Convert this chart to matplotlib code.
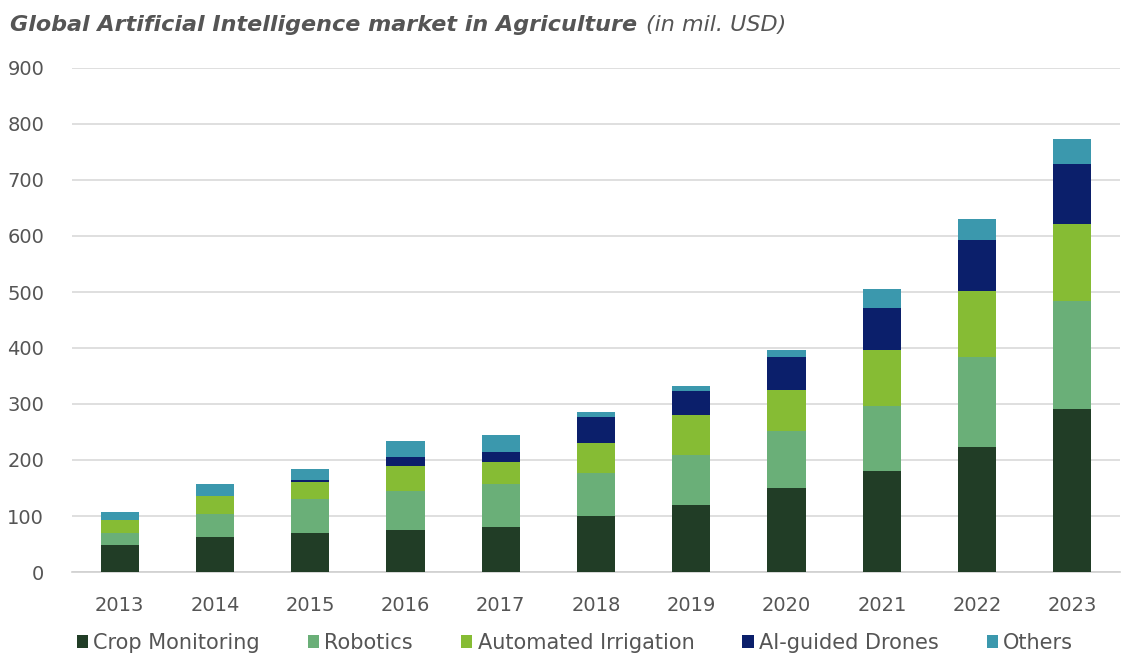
import matplotlib
matplotlib.use("Agg")
import matplotlib.pyplot as plt
import numpy as np

years = ["2013", "2014", "2015", "2016", "2017", "2018", "2019", "2020", "2021", "2022", "2023"]
crop_monitoring = [48, 62, 70, 75, 80, 100, 120, 150, 180, 223, 291]
robotics = [22, 42, 60, 70, 77, 77, 89, 102, 116, 161, 193]
automated_irrigation = [23, 32, 31, 44, 39, 53, 71, 73, 100, 118, 137]
ai_drones = [0, 0, 3, 16, 18, 47, 43, 59, 75, 91, 108]
others = [14, 21, 20, 29, 31, 9, 9, 12, 34, 37, 44]

series = [
    ("Crop Monitoring", crop_monitoring, "#213d26"),
    ("Robotics", robotics, "#6aaf78"),
    ("Automated Irrigation", automated_irrigation, "#86bc34"),
    ("AI-guided Drones", ai_drones, "#0b1f6b"),
    ("Others", others, "#3b98ad"),
]

W, H = 1123, 657
fig = plt.figure(figsize=(W / 100, H / 100), dpi=100)
ax = fig.add_axes([72 / W, 1 - 572 / H, (1120 - 72) / W, (572 - 68) / H])

x = np.arange(len(years))
bottom = np.zeros(len(years))
handles = []
for name, vals, col in series:
    v = np.array(vals, dtype=float)
    b = ax.bar(x, v, 0.4, bottom=bottom, color=col, label=name, zorder=3, linewidth=0)
    handles.append(b)
    bottom += v

ax.set_xlim(-0.5, len(years) - 0.5)
ax.set_ylim(0, 900)
ax.set_yticks(range(0, 901, 100))
ax.set_xticks(x)
ax.set_xticklabels(years)
ax.yaxis.grid(True, color="#d9d9d9", linewidth=1.2, zorder=0)
ax.set_axisbelow(True)
for s in ["top", "right", "left"]:
    ax.spines[s].set_visible(False)
ax.spines["bottom"].set_color("#d0d0d0")
ax.spines["bottom"].set_linewidth(1.2)
ax.tick_params(axis="both", length=0, colors="#555555", labelsize=14)
ax.tick_params(axis="y", pad=20)
ax.tick_params(axis="x", pad=17)

leg = fig.legend(handles=handles, loc="center", bbox_to_anchor=(575 / W, 1 - 643 / H),
                 ncol=5, frameon=False, fontsize=15, handlelength=0.55, handleheight=0.55,
                 handletextpad=0.25, columnspacing=2.3)
for t in leg.get_texts():
    t.set_color("#555555")

t1 = fig.text(10 / W, 1 - 25 / H, "Global Artificial Intelligence market in Agriculture",
              fontsize=16, fontweight="bold", style="italic", color="#555555", va="center", ha="left")
fig.canvas.draw()
bb = t1.get_window_extent()
fig.text((bb.x1 + 9) / W, 1 - 25 / H, "(in mil. USD)", fontsize=16, style="italic",
         color="#555555", va="center", ha="left")

fig.savefig("out.png", dpi=100)
